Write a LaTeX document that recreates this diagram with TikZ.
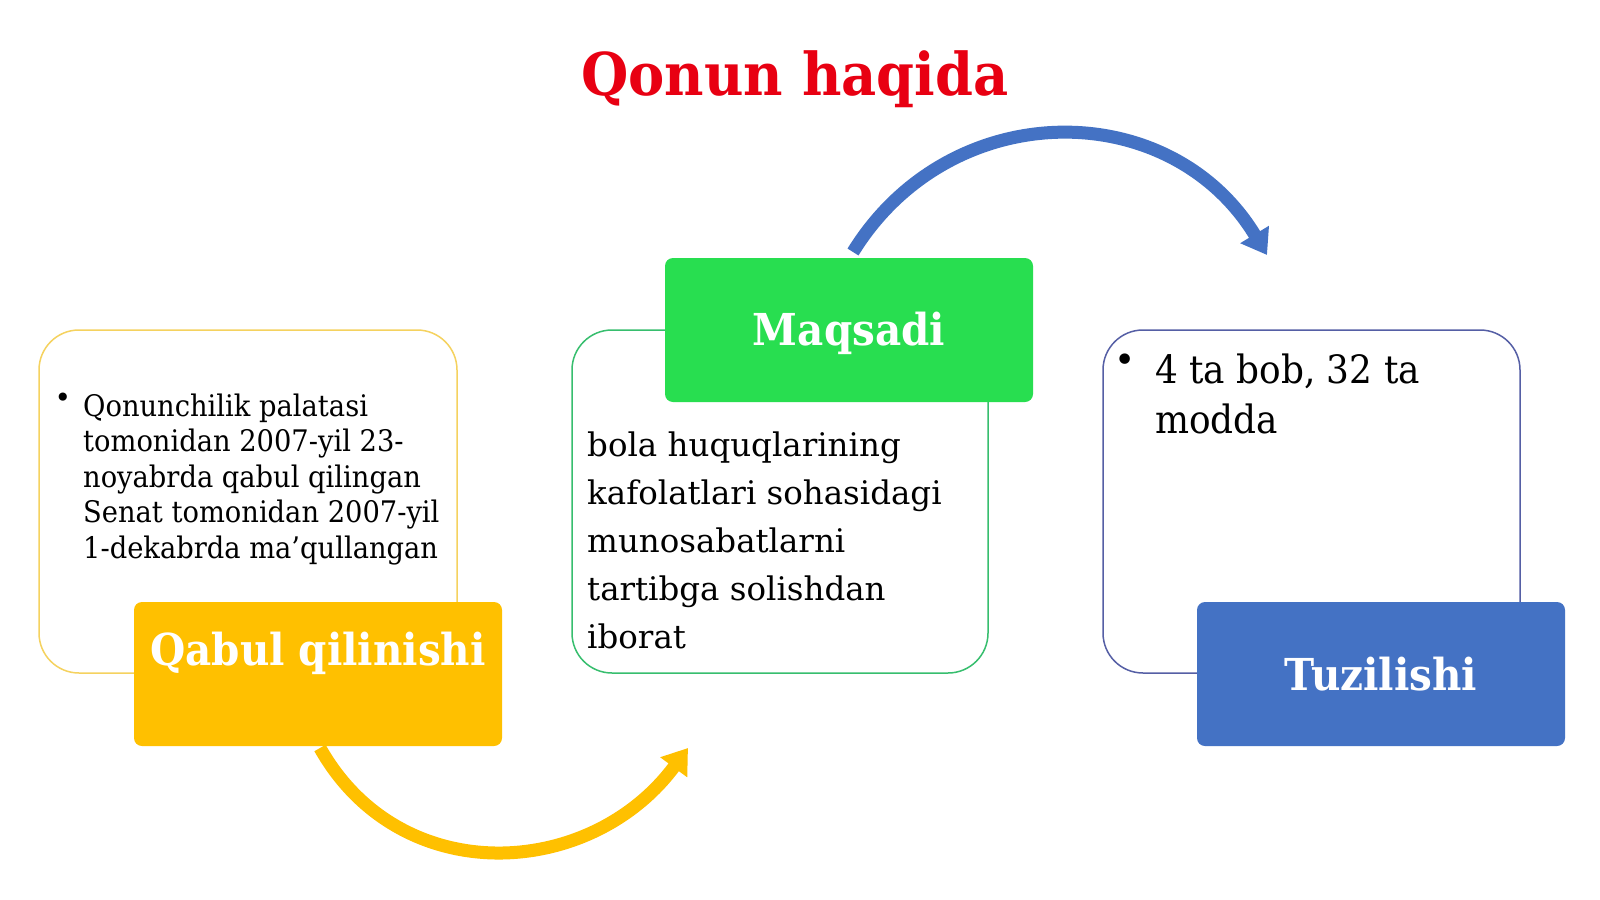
\documentclass[tikz,border=0pt]{standalone}
\usepackage{fontspec}
\setmainfont{DejaVu Serif}
\newfontfamily\narrowserif[FakeStretch=0.92]{DejaVu Serif}
\usetikzlibrary{arrows.meta}
\definecolor{ttlred}{RGB}{232,0,18}
\definecolor{ylfill}{RGB}{255,192,0}
\definecolor{ylline}{RGB}{245,210,95}
\definecolor{grfill}{RGB}{40,222,80}
\definecolor{grline}{RGB}{55,190,110}
\definecolor{blfill}{RGB}{68,114,196}
\definecolor{blline}{RGB}{85,95,165}
\tikzset{
  outl/.style={draw, line width=1.5pt, fill=white, rounded corners=40pt, inner sep=0pt},
  fillbox/.style={rounded corners=8pt, inner sep=0pt, minimum width=368pt, minimum height=144pt},
  lbl/.style={text=white, inner sep=0pt, anchor=base},
  body/.style={inner sep=0pt, anchor=base west, align=left, text=black},
  bul/.style={inner sep=0pt, anchor=base, text=black},
  carrow/.style={line width=13pt, -{Triangle[width=32pt,length=24pt]}}
}
\begin{document}
\begin{tikzpicture}[x=1pt,y=-1pt]
\useasboundingbox[fill=white] (0,0) rectangle (1600,899);
% title
\node[inner sep=0pt, anchor=base, text=ttlred, font=\narrowserif\fontsize{59}{70}\selectfont\bfseries] (title) at (795,95) {Qonun haqida};
% outline boxes
\node[outl, draw=ylline, minimum width=418pt, minimum height=343pt] (lbox) at (248,501.5) {};
\node[outl, draw=grline, minimum width=416pt, minimum height=343pt] (mbox) at (780,501.5) {};
\node[outl, draw=blline, minimum width=417pt, minimum height=343pt] (rbox) at (1311.5,501.5) {};
% fill boxes
\node[fillbox, fill=ylfill] (lfill) at (318,674) {};
\node[fillbox, fill=grfill] (mfill) at (849,330) {};
\node[fillbox, fill=blfill] (rfill) at (1381,674) {};
% labels
\node[lbl, font=\narrowserif\fontsize{44}{50}\selectfont\bfseries] (llbl) at (318,665) {Qabul qilinishi};
\node[lbl, font=\narrowserif\fontsize{44}{50}\selectfont\bfseries] (mlbl) at (849,345) {Maqsadi};
\node[lbl, font=\narrowserif\fontsize{44}{50}\selectfont\bfseries] (rlbl) at (1381,690) {Tuzilishi};
% texts
\node[bul, font=\fontsize{28}{30}\selectfont] (lbul) at (63,407.5) {•};
\node[body, font=\narrowserif\fontsize{29.7}{35.5}\selectfont] (ltxt) at (83,558) {Qonunchilik palatasi\\tomonidan 2007-yil 23-\\noyabrda qabul qilingan\\Senat tomonidan 2007-yil\\1-dekabrda ma’qullangan};
\node[body, font=\fontsize{32.5}{48}\selectfont] (mtxt) at (587,648) {bola huquqlarining\\kafolatlari sohasidagi\\munosabatlarni\\tartibga solishdan\\iborat};
\node[bul, font=\fontsize{36}{40}\selectfont] (rbul) at (1125,372) {•};
\node[body, font=\narrowserif\fontsize{39}{50}\selectfont] (rtxt) at (1155,433) {4 ta bob, 32 ta\\modda};
% arrows
\coordinate (bstart) at (853,252);
\coordinate (bend) at (1267,255);
\coordinate (ystart) at (320,748);
\coordinate (yend) at (688,748);
\draw[carrow, draw=blfill] (bstart) .. controls (950,95) and (1170,95) .. (bend);
\draw[carrow, draw=ylfill] (ystart) .. controls (400,890) and (590,880) .. (yend);
\end{tikzpicture}
\end{document}
